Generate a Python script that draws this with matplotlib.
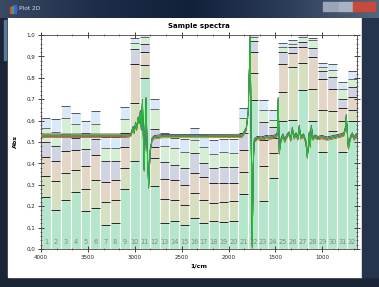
import numpy as np
import matplotlib
matplotlib.use("Agg")
import matplotlib.pyplot as plt
from matplotlib.patches import Rectangle
from matplotlib.ticker import MultipleLocator, FuncFormatter

# ---------------- data ----------------
x_start, x_end = 4000, 630          # wavenumber range covered by the 32 bins
n_bins = 32
bin_labels = [str(i) for i in range(1, 33)]

# cumulative tops of the six stacked layers in every bin
mint_top = [0.244, 0.182, 0.229, 0.268, 0.178, 0.190, 0.112, 0.123, 0.279, 0.410, 0.800,
            0.294, 0.120, 0.131, 0.112, 0.143, 0.123, 0.131, 0.128, 0.131, 0.257, 0.696,
            0.224, 0.330, 0.600, 0.603, 0.743, 0.600, 0.452, 0.550, 0.452, 0.600]
olive_top = [0.341, 0.318, 0.354, 0.369, 0.279, 0.322, 0.221, 0.229, 0.377, 0.681, 0.860,
             0.424, 0.232, 0.229, 0.206, 0.260, 0.229, 0.216, 0.221, 0.224, 0.358, 0.821,
             0.388, 0.447, 0.735, 0.850, 0.868, 0.750, 0.649, 0.646, 0.600, 0.649]
tan_top = [0.428, 0.411, 0.459, 0.463, 0.389, 0.439, 0.312, 0.322, 0.478, 0.863, 0.920,
           0.475, 0.326, 0.322, 0.299, 0.357, 0.335, 0.307, 0.307, 0.310, 0.462, 0.922,
           0.510, 0.520, 0.864, 0.914, 0.945, 0.896, 0.793, 0.750, 0.657, 0.712]
grayblue_top = [0.501, 0.483, 0.537, 0.517, 0.467, 0.513, 0.411, 0.411, 0.540, 0.933, 0.960,
                0.560, 0.408, 0.393, 0.377, 0.447, 0.400, 0.380, 0.385, 0.385, 0.540, 0.970,
                0.595, 0.570, 0.922, 0.945, 0.968, 0.938, 0.830, 0.805, 0.700, 0.755]
lgreen_top = [0.564, 0.548, 0.611, 0.584, 0.540, 0.583, 0.470, 0.473, 0.607, 0.964, 0.990,
              0.652, 0.481, 0.470, 0.455, 0.510, 0.478, 0.445, 0.455, 0.450, 0.611, 0.990,
              0.650, 0.603, 0.945, 0.960, 0.990, 0.977, 0.850, 0.836, 0.746, 0.793]
lblue_top = [0.611, 0.606, 0.668, 0.637, 0.598, 0.645, 0.525, 0.525, 0.665, 0.985, 1.030,
             0.701, 0.540, 0.520, 0.514, 0.564, 0.533, 0.510, 0.512, 0.512, 0.657, 1.030,
             0.696, 0.650, 0.964, 0.975, 1.000, 0.985, 0.868, 0.864, 0.782, 0.833]

# base spectrum key points (wavenumber, absorbance)
spec_wn = [4000, 3100, 3060, 3040, 3018, 3007, 2991, 2980, 2964, 2954, 2940, 2930, 2918,
           2900, 2880, 2870, 2852, 2835, 2815, 2790, 2700, 2300, 1860, 1843, 1811, 1790,
           1769, 1758, 1747, 1736, 1726, 1694, 1650, 1600, 1560, 1500, 1480, 1470, 1459,
           1440, 1420, 1400, 1380, 1355, 1335, 1320, 1300, 1280, 1260, 1246, 1230, 1200,
           1175, 1160, 1150, 1140, 1128, 1117, 1100, 1080, 1050, 1000, 950, 900, 850, 800,
           770, 755, 744, 733, 722, 700, 680, 660, 640, 630]
spec_abs = [0.529, 0.529, 0.530, 0.535, 0.565, 0.545, 0.585, 0.560, 0.610, 0.590, 0.640,
            0.560, 0.690, 0.370, 0.700, 0.500, 0.290, 0.460, 0.512, 0.522, 0.527, 0.527,
            0.528, 0.535, 0.560, 0.640, 0.990, 0.500, 0.010, 0.400, 0.505, 0.518, 0.515,
            0.522, 0.520, 0.525, 0.535, 0.700, 0.450, 0.510, 0.530, 0.505, 0.525, 0.540,
            0.510, 0.560, 0.520, 0.535, 0.515, 0.570, 0.520, 0.530, 0.500, 0.430, 0.470,
            0.540, 0.480, 0.570, 0.515, 0.525, 0.518, 0.522, 0.515, 0.520, 0.525, 0.530,
            0.535, 0.560, 0.620, 0.540, 0.470, 0.520, 0.535, 0.515, 0.530, 0.525]
spec_offsets = [0.008, -0.007, 0.005, -0.004, 0.003, -0.002, 0.001, -0.001, 0.000]
spec_colors = ['#111111', '#e02020', '#ff9a00', '#d8d800', '#3050ff', '#a020c0',
               '#2080ff', '#1a8a1a', '#22d022']

# ---------------- figure with window chrome ----------------
W, H = 379, 287
fig = plt.figure(figsize=(W / 100, H / 100), dpi=100)
fig.patch.set_facecolor('#1b2536')

def px_rect(x0, y0, w, h, z=-5, **kw):
    r = Rectangle((x0 / W, 1 - (y0 + h) / H), w / W, h / H, transform=fig.transFigure,
                  zorder=z, **kw)
    fig.patches.append(r)
    return r

# title bar gradient
tb = fig.add_axes([0, 1 - 18 / H, 1, 18 / H], zorder=-3)
tb.imshow(np.linspace(0, 1, 256).reshape(1, -1), aspect='auto',
          cmap=matplotlib.colors.LinearSegmentedColormap.from_list(
              'tb', ['#3a4a63', '#1e2d48', '#12203a', '#2b3c58', '#55657c']),
          extent=[0, 1, 0, 1])
tb.set_axis_off()
fig.text(19 / W, 1 - 9 / H, 'Plot 2D', color='#d8dde8', fontsize=4.2, va='center', ha='left')
for i, c in enumerate(['#e04040', '#40b040', '#4060e0']):
    px_rect(10 + i * 2, 5 + (2 - i), 1.6, 8 - (2 - i), z=5, color=c)
px_rect(323, 2, 16, 9, z=5, color='#9aa6b8')
px_rect(339, 2, 14, 9, z=5, color='#a7b2c3')
px_rect(353, 2, 22, 9, z=5, color='#c84a3c')
# window client (white)
px_rect(8, 18, 354, 259, color='white')
px_rect(362, 18, 17, 259, color='#25344c')
px_rect(4, 20, 2, 40, color='#5a7aa0')

# ---------------- axes ----------------
ax = fig.add_axes([41 / W, 1 - 249 / H, (357 - 41) / W, (249 - 35) / H], zorder=1)
ax.set_xlim(x_start, x_end)
ax.set_ylim(0, 1.0)

edges = np.linspace(x_start, x_end, n_bins + 1)
lefts = edges[:-1]
widths = np.diff(edges)
centers = lefts + widths / 2

layers = [mint_top, olive_top, tan_top, grayblue_top, lgreen_top, lblue_top]
layer_colors = ['#b4e6cb', '#d6e0c0', '#e3d6c6', '#cfd3e2', '#d5efd4', '#d8e9fa']
line_colors = ['#222222', '#222222', '#222222', '#333333', '#666666', '#555555']
bottom = np.zeros(n_bins)
for top, col, lc in zip(layers, layer_colors, line_colors):
    top = np.array(top)
    ax.bar(lefts, top - bottom, width=widths, bottom=bottom, align='edge',
           color=col, edgecolor='white', linewidth=0.8, zorder=1)
    ax.hlines(top, lefts + widths * 0.05, lefts + widths * 0.95, colors=lc, linewidth=0.7, zorder=2)
    bottom = top

for c, lab in zip(centers, bin_labels):
    ax.text(c, 0.035, lab, ha='center', va='center', fontsize=4.8, color='#808c86', zorder=3)

wn = np.array(spec_wn)
ab = np.array(spec_abs)
for off, col in zip(spec_offsets, spec_colors):
    ax.plot(wn, ab + off, color=col, linewidth=0.55, zorder=4)

ax.set_title('Sample spectra', fontsize=5, fontweight='bold', pad=5)
ax.set_xlabel('1/cm', fontsize=4.5, fontweight='bold', labelpad=3)
ax.set_ylabel('Abs', fontsize=4.5, fontweight='bold', labelpad=6)

ax.xaxis.set_major_locator(MultipleLocator(500))
ax.xaxis.set_minor_locator(MultipleLocator(500 / 3))
ax.yaxis.set_major_locator(MultipleLocator(0.1))
ax.yaxis.set_minor_locator(MultipleLocator(0.02))
ax.yaxis.set_major_formatter(FuncFormatter(lambda v, p: f'{v:.1f}'.replace('.', ',')))
ax.xaxis.set_major_formatter(FuncFormatter(lambda v, p: f'{int(v)}'))
ax.tick_params(which='both', direction='inout', top=True, right=True, labelsize=4, colors='#222')
ax.tick_params(which='major', length=4, width=0.6, pad=2)
ax.tick_params(which='minor', length=2, width=0.4)
for s in ax.spines.values():
    s.set_linewidth(0.6)
    s.set_color('#444')

fig.savefig('out.png', dpi=100, facecolor=fig.get_facecolor())
